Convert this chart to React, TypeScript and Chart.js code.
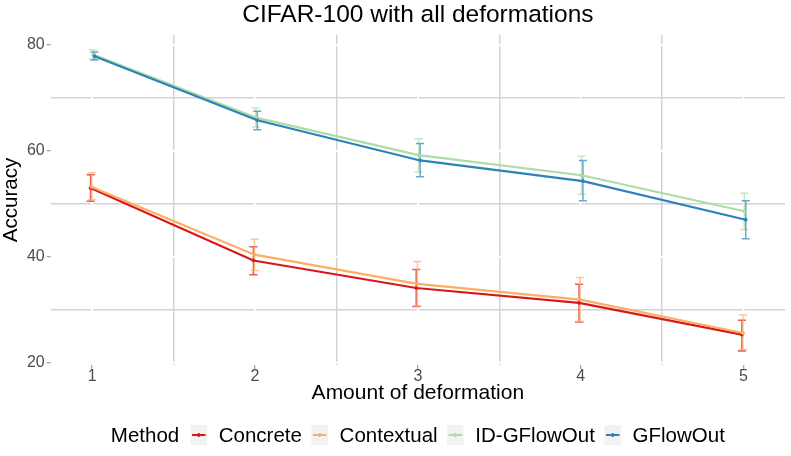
import React, { useEffect, useRef } from 'react';
import { Chart, registerables } from 'chart.js';

Chart.register(...registerables);

// amount of deformation (x) and the four methods
const amounts = [1, 2, 3, 4, 5];
const methods = ['Concrete', 'Contextual', 'ID-GFlowOut', 'GFlowOut'];
const methodColors = ['#D7191C', '#FDAE61', '#ABDDA4', '#2B83BA'];

// mean accuracy per amount, plus error bar ends
const concreteMean = [53.0, 39.3, 34.1, 31.3, 25.3];
const concreteLow = [50.5, 36.6, 30.6, 27.7, 22.2];
const concreteHigh = [55.5, 41.9, 37.6, 34.8, 28.0];

const contextualMean = [53.2, 40.4, 34.9, 31.9, 25.6];
const contextualLow = [50.8, 37.4, 30.7, 27.8, 22.5];
const contextualHigh = [55.9, 43.3, 39.1, 36.1, 29.0];

const idFlowMean = [78.2, 66.3, 59.2, 55.4, 48.6];
const idFlowLow = [77.3, 64.5, 56.0, 51.8, 45.1];
const idFlowHigh = [79.1, 68.1, 62.3, 59.0, 52.0];

const flowMean = [77.9, 65.8, 58.2, 54.3, 47.0];
const flowLow = [77.2, 64.0, 55.1, 50.6, 43.4];
const flowHigh = [78.7, 67.5, 61.4, 58.2, 50.6];

const means = [concreteMean, contextualMean, idFlowMean, flowMean];
const lows = [concreteLow, contextualLow, idFlowLow, flowLow];
const highs = [concreteHigh, contextualHigh, idFlowHigh, flowHigh];

// tick positions (majors get labels, halves are minor grid lines)
const xTicks = [1, 1.5, 2, 2.5, 3, 3.5, 4, 4.5, 5];
const yTicks = [20, 30, 40, 50, 60, 70, 80];

const dodge = [-0.01, -0.003, 0.005, 0.014];
const capWidth = 0.05;
const FONT = '"Liberation Sans", Arial, sans-serif';
const minorGrid = '#d3d3d3';

const isMajorX = (v: number) => Number.isInteger(v);
const isMajorY = (v: number) => v % 20 === 0;

const whiteMajors = {
   id: 'whiteMajors',
   beforeDatasetsDraw(chart: any) {
      const { ctx, chartArea } = chart;
      const xs = chart.scales.x;
      const ys = chart.scales.y;
      ctx.save();
      ctx.strokeStyle = '#ffffff';
      ctx.lineWidth = 2;
      ctx.beginPath();
      xTicks.filter(isMajorX).forEach((v) => {
         const px = xs.getPixelForValue(v);
         ctx.moveTo(px, chartArea.top);
         ctx.lineTo(px, chartArea.bottom);
      });
      yTicks.filter(isMajorY).forEach((v) => {
         const py = ys.getPixelForValue(v);
         ctx.moveTo(chartArea.left, py);
         ctx.lineTo(chartArea.right, py);
      });
      ctx.stroke();
      ctx.restore();
   },
};

const errorBars = {
   id: 'errorBars',
   beforeDatasetsDraw(chart: any) {
      const { ctx } = chart;
      const xs = chart.scales.x;
      const ys = chart.scales.y;
      chart.data.datasets.forEach((ds: any) => {
         ctx.save();
         ctx.strokeStyle = ds.borderColor;
         ctx.globalAlpha = 0.7;
         ctx.lineWidth = 1.5;
         ctx.beginPath();
         ds.data.forEach((p: any, i: number) => {
            const px = xs.getPixelForValue(p.x);
            const half = xs.getPixelForValue(p.x + capWidth / 2) - px;
            const top = ys.getPixelForValue(ds.errHigh[i]);
            const bot = ys.getPixelForValue(ds.errLow[i]);
            ctx.moveTo(px, top);
            ctx.lineTo(px, bot);
            ctx.moveTo(px - half, top);
            ctx.lineTo(px + half, top);
            ctx.moveTo(px - half, bot);
            ctx.lineTo(px + half, bot);
         });
         ctx.stroke();
         ctx.restore();
      });
   },
};

const titleAndLegend = {
   id: 'titleAndLegend',
   afterDraw(chart: any) {
      const { ctx, chartArea } = chart;
      const cx = (chartArea.left + chartArea.right) / 2;
      ctx.save();
      ctx.fillStyle = '#000000';
      ctx.textAlign = 'center';
      ctx.textBaseline = 'alphabetic';
      ctx.font = `24.5px ${FONT}`;
      ctx.fillText('CIFAR-100 with all deformations', cx, 21.7);

      // legend along the bottom
      ctx.font = `20.5px ${FONT}`;
      ctx.textAlign = 'left';
      const keyW = 16.5;
      const keyH = 20;
      const titleGap = 11.3;
      const keyGap = 11.7;
      const itemGap = 9.5;
      const titleW = ctx.measureText('Method').width;
      const labelW = methods.map((m) => ctx.measureText(m).width);
      const total =
         titleW + titleGap + labelW.reduce((a, w) => a + keyW + keyGap + w, 0) + itemGap * (methods.length - 1);
      let x = cx - total / 2;
      const base = 442;
      const mid = 435;
      ctx.fillText('Method', x, base);
      x += titleW + titleGap;
      methods.forEach((m, k) => {
         ctx.fillStyle = '#f2f2f2';
         ctx.fillRect(x, mid - keyH / 2, keyW, keyH);
         ctx.strokeStyle = methodColors[k];
         ctx.lineWidth = 2;
         ctx.beginPath();
         ctx.moveTo(x + 1.5, mid);
         ctx.lineTo(x + keyW - 1.5, mid);
         ctx.moveTo(x + keyW / 2, mid - 2);
         ctx.lineTo(x + keyW / 2, mid + 2);
         ctx.stroke();
         x += keyW + keyGap;
         ctx.fillStyle = '#000000';
         ctx.fillText(m, x, base);
         x += labelW[k] + itemGap;
      });
      ctx.restore();
   },
};

const App = () => {
   const canvasRef = useRef<HTMLCanvasElement | null>(null);

   useEffect(() => {
      document.body.style.margin = '0';
      if (!canvasRef.current) return;

      const datasets = methods.map((m, k) => ({
         label: m,
         data: amounts.map((a, i) => ({ x: a + dodge[k], y: means[k][i] })),
         errLow: lows[k],
         errHigh: highs[k],
         borderColor: methodColors[k],
         backgroundColor: methodColors[k],
         borderWidth: 2.2,
         pointRadius: 1.4,
         pointHoverRadius: 1.4,
         pointBorderWidth: 1,
         tension: 0,
         order: methods.length - 1 - k,
      }));

      const chart = new Chart(canvasRef.current, {
         type: 'line',
         data: { datasets: datasets as any },
         plugins: [whiteMajors, errorBars, titleAndLegend],
         options: {
            responsive: false,
            animation: false,
            layout: { padding: { left: 0, right: 6, top: 35, bottom: 46 } },
            plugins: {
               legend: { display: false },
               title: { display: false },
               tooltip: { enabled: false },
            },
            scales: {
               x: {
                  type: 'linear',
                  min: 0.745,
                  max: 5.255,
                  afterFit: (scale: any) => {
                     scale.height = 45;
                  },
                  afterBuildTicks: (scale: any) => {
                     scale.ticks = xTicks.map((v) => ({ value: v }));
                  },
                  border: { display: false },
                  grid: {
                     color: (c: any) => (isMajorX(c.tick.value) ? 'rgba(0,0,0,0)' : minorGrid),
                     tickColor: (c: any) => (isMajorX(c.tick.value) ? '#8a8a8a' : 'rgba(0,0,0,0)'),
                     lineWidth: 1.5,
                     tickLength: 4,
                     tickWidth: 1,
                  },
                  ticks: {
                     autoSkip: false,
                     maxRotation: 0,
                     padding: 0,
                     color: '#4d4d4d',
                     font: { family: FONT, size: 16, lineHeight: 1.0 },
                     callback: (v: any) => (isMajorX(Number(v)) ? String(v) : ''),
                  },
                  title: {
                     display: true,
                     text: 'Amount of deformation',
                     color: '#000000',
                     font: { family: FONT, size: 21 },
                     padding: { top: 0, bottom: 4 },
                  },
               },
               y: {
                  type: 'linear',
                  min: 19.56,
                  max: 81.9,
                  afterFit: (scale: any) => {
                     scale.width = 50.7;
                  },
                  afterBuildTicks: (scale: any) => {
                     scale.ticks = yTicks.map((v) => ({ value: v }));
                  },
                  border: { display: false },
                  grid: {
                     color: (c: any) => (isMajorY(c.tick.value) ? 'rgba(0,0,0,0)' : minorGrid),
                     tickColor: (c: any) => (isMajorY(c.tick.value) ? '#8a8a8a' : 'rgba(0,0,0,0)'),
                     lineWidth: 1.5,
                     tickLength: 4,
                     tickWidth: 1,
                  },
                  ticks: {
                     autoSkip: false,
                     padding: 2,
                     color: '#4d4d4d',
                     font: { family: FONT, size: 16 },
                     callback: (v: any) => (isMajorY(Number(v)) ? String(v) : ''),
                  },
                  title: {
                     display: true,
                     text: 'Accuracy',
                     color: '#000000',
                     font: { family: FONT, size: 20.5, lineHeight: 1.0 },
                     padding: { top: 1, bottom: 0 },
                  },
               },
            },
         },
      });

      return () => {
         chart.destroy();
      };
   }, []);

   return (
      <div style={{ width: 791, height: 456 }}>
         <canvas ref={canvasRef} width={791} height={456} />
      </div>
   );
};

export default App;
